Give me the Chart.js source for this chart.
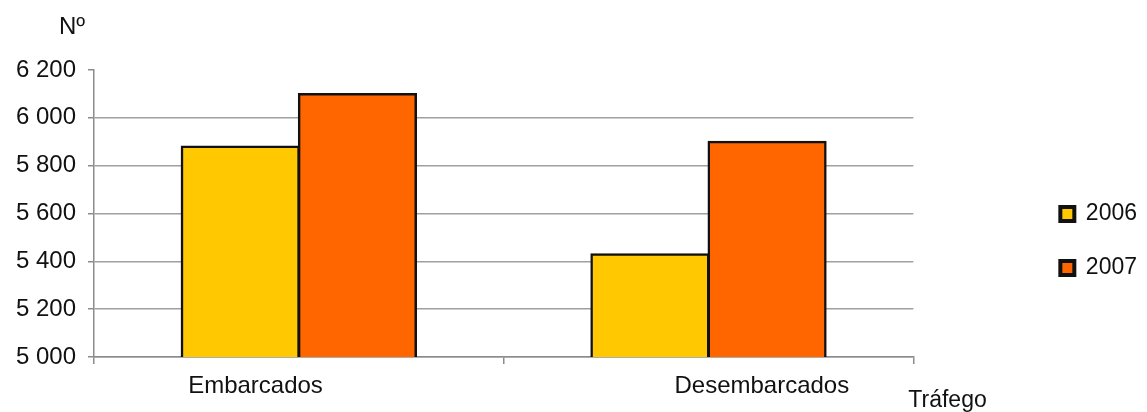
<!DOCTYPE html>
<html>
<head>
<meta charset="utf-8">
<script src="https://cdn.jsdelivr.net/npm/chart.js@4/dist/chart.umd.min.js"></script>
<style>
  body { margin: 0; background: #fff; }
  #wrap { position: relative; width: 1147px; height: 412px; }
</style>
</head>
<body>
<div id="wrap"><canvas id="trafficChart"></canvas></div>
<script>
const categories = ['Embarcados', 'Desembarcados'];
const years = ['2006', '2007'];
const values2006 = [5880, 5430];
const values2007 = [6100, 5900];
const yTicks = [5000, 5200, 5400, 5600, 5800, 6000, 6200];

const fontFamily = "'Liberation Sans', Arial, sans-serif";
const axisGray = '#8c8c8c';

// the labels in the picture sit off-centre, so pad them with spaces
const labelPad = ['', '                '];
const labelTail = ['             ', ''];

// draws the two loose axis captions
const captions = {
    id: 'captions',
    afterDraw(chart) {
        const c = chart.ctx;
        const area = chart.chartArea;
        c.save();
        c.fillStyle = '#111';
        c.font = '24px ' + fontFamily;
        c.textAlign = 'center';
        c.textBaseline = 'middle';
        c.fillText('Nº', 72, 27);
        c.font = '23px ' + fontFamily;
        c.textAlign = 'left';
        c.fillText('Tráfego', area.right - 5, 401);
        c.restore();
    }
};

const ctx = document.getElementById('trafficChart').getContext('2d');
const chart = new Chart(ctx, {
    type: 'bar',
    data: {
        labels: categories,
        datasets: [{
            label: years[0],
            data: values2006,
            backgroundColor: '#ffc800',
            borderColor: '#111',
            borderWidth: 2.5,
            borderSkipped: false,
            inflateAmount: 1
        }, {
            label: years[1],
            data: values2007,
            backgroundColor: '#ff6600',
            borderColor: '#111',
            borderWidth: 2.5,
            borderSkipped: false,
            inflateAmount: 1
        }]
    },
    options: {
        responsive: true,
        maintainAspectRatio: false,
        animation: false,
        categoryPercentage: 0.572,
        barPercentage: 1,
        layout: { padding: { top: 70, right: 0, bottom: 0, left: 0 } },
        plugins: {
            legend: {
                position: 'right',
                labels: {
                    color: '#111',
                    font: { family: fontFamily, size: 23 },
                    boxWidth: 14,
                    boxHeight: 14,
                    padding: 31,
                    generateLabels(ch) {
                        const items = Chart.defaults.plugins.legend.labels.generateLabels(ch);
                        items.forEach(it => { it.lineWidth = 4; it.strokeStyle = '#111'; });
                        return items;
                    }
                }
            },
            tooltip: { enabled: false }
        },
        scales: {
            x: {
                grid: {
                    drawOnChartArea: false,
                    tickLength: 7,
                    tickColor: axisGray,
                    lineWidth: 1.5
                },
                border: { color: axisGray, width: 1.5 },
                ticks: {
                    color: '#111',
                    font: { family: fontFamily, size: 24 },
                    padding: 8,
                    maxRotation: 0,
                    callback: (v, i) => labelPad[i] + categories[i] + labelTail[i]
                },
                afterFit: s => { s.height = 55; }
            },
            y: {
                min: yTicks[0],
                max: yTicks[yTicks.length - 1],
                afterBuildTicks: s => { s.ticks = yTicks.map(v => ({ value: v })); },
                grid: {
                    color: c => (c.tick && c.tick.value === 6200) ? 'rgba(0,0,0,0)' : '#a0a0a0',
                    tickColor: axisGray,
                    tickLength: 6,
                    lineWidth: 1.5
                },
                border: { color: axisGray, width: 1.5 },
                ticks: {
                    color: '#111',
                    font: { family: fontFamily, size: 24 },
                    padding: 12,
                    callback: v => String(v).replace(/\B(?=(\d{3})+(?!\d))/g, ' ')
                },
                afterFit: s => { s.width = 94; }
            },
            gap: {
                position: 'right',
                display: true,
                grid: { display: false },
                border: { display: false },
                ticks: { display: false },
                afterFit: s => { s.width = 116; }
            }
        }
    },
    plugins: [captions]
});
</script>
</body>
</html>
